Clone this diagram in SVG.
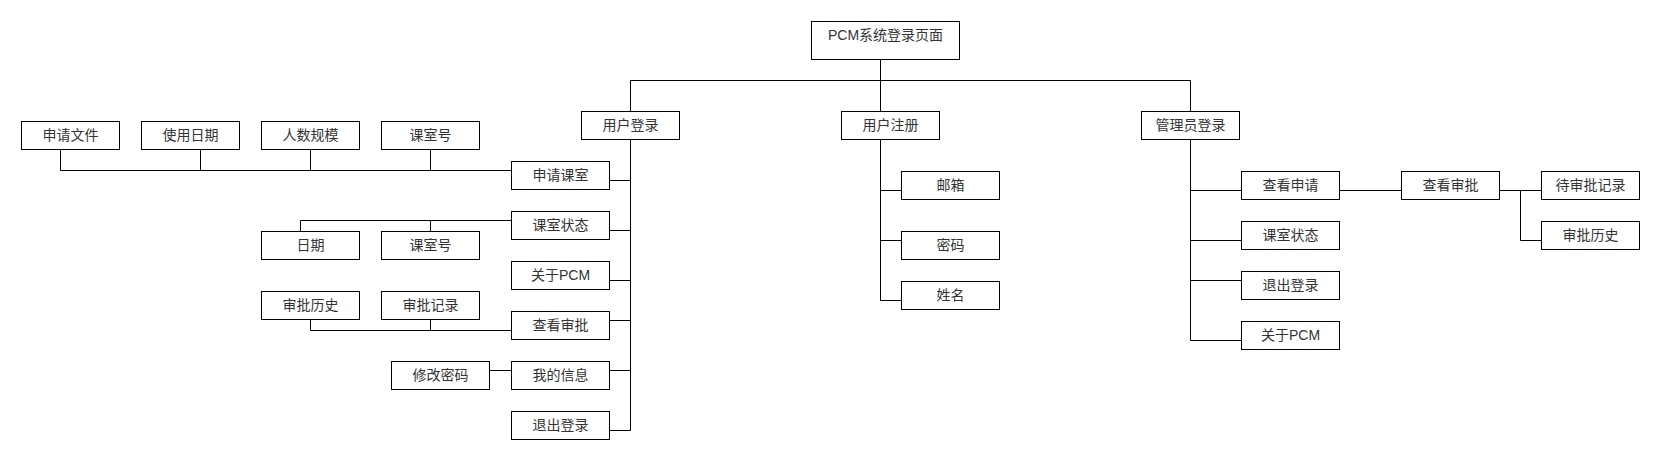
<svg xmlns="http://www.w3.org/2000/svg" width="1660" height="470" viewBox="0 0 1660 470">
<style>
.n rect{fill:#fff;stroke:#000;stroke-width:1}
.n text{font-family:"Liberation Sans","Noto Sans CJK SC",sans-serif;font-size:14px;fill:#333;text-anchor:middle}
#connectors path{fill:none;stroke:#000;stroke-width:1}
</style>
<rect width="1660" height="470" fill="#fff"/>
<g id="connectors">
<path d="M880.5 59.5V80.5M630.5 80.5H1190.5M630.5 80.5V111.5M880.5 80.5V111.5M1190.5 80.5V111.5"/>
<path d="M630.5 139.5V430.5M609.5 180.5H630.5M609.5 230.5H630.5M609.5 280.5H630.5M609.5 320.5H630.5M609.5 370.5H630.5M609.5 430.5H630.5"/>
<path d="M511.5 170.5H60.5M60.5 149.5V170.5M200.5 149.5V170.5M310.5 149.5V170.5M430.5 149.5V170.5"/>
<path d="M511.5 220.5H300.5V231.5M430.5 220.5V231.5"/>
<path d="M511.5 330.5H310.5V319.5M430.5 330.5V319.5"/>
<path d="M489.5 370.5H511.5"/>
<path d="M880.5 139.5V300.5M880.5 190.5H901.5M880.5 240.5H901.5M880.5 300.5H901.5"/>
<path d="M1190.5 139.5V340.5M1190.5 190.5H1241.5M1190.5 240.5H1241.5M1190.5 280.5H1241.5M1190.5 340.5H1241.5"/>
<path d="M1339.5 190.5H1401.5M1499.5 190.5H1541.5M1520.5 190.5V240.5H1541.5"/>
</g>
<g id="root" class="n"><rect x="811.5" y="21.5" width="148" height="38"/><text x="885.5" y="39.5">PCM系统登录页面</text></g>
<g id="user-login" class="n"><rect x="581.5" y="111.5" width="98" height="28"/><text x="630.5" y="129.5">用户登录</text></g>
<g id="user-register" class="n"><rect x="841.5" y="111.5" width="98" height="28"/><text x="890.5" y="129.5">用户注册</text></g>
<g id="admin-login" class="n"><rect x="1141.5" y="111.5" width="98" height="28"/><text x="1190.5" y="129.5">管理员登录</text></g>
<g id="apply-file" class="n"><rect x="21.5" y="121.5" width="98" height="28"/><text x="70.5" y="139.5">申请文件</text></g>
<g id="use-date" class="n"><rect x="141.5" y="121.5" width="98" height="28"/><text x="190.5" y="139.5">使用日期</text></g>
<g id="people-scale" class="n"><rect x="261.5" y="121.5" width="98" height="28"/><text x="310.5" y="139.5">人数规模</text></g>
<g id="room-no-1" class="n"><rect x="381.5" y="121.5" width="98" height="28"/><text x="430.5" y="139.5">课室号</text></g>
<g id="apply-room" class="n"><rect x="511.5" y="161.5" width="98" height="28"/><text x="560.5" y="179.5">申请课室</text></g>
<g id="room-status" class="n"><rect x="511.5" y="211.5" width="98" height="28"/><text x="560.5" y="229.5">课室状态</text></g>
<g id="date" class="n"><rect x="261.5" y="231.5" width="98" height="28"/><text x="310.5" y="249.5">日期</text></g>
<g id="room-no-2" class="n"><rect x="381.5" y="231.5" width="98" height="28"/><text x="430.5" y="249.5">课室号</text></g>
<g id="about-pcm" class="n"><rect x="511.5" y="261.5" width="98" height="28"/><text x="560.5" y="279.5">关于PCM</text></g>
<g id="approval-history" class="n"><rect x="261.5" y="291.5" width="98" height="28"/><text x="310.5" y="309.5">审批历史</text></g>
<g id="approval-record" class="n"><rect x="381.5" y="291.5" width="98" height="28"/><text x="430.5" y="309.5">审批记录</text></g>
<g id="view-approval" class="n"><rect x="511.5" y="311.5" width="98" height="28"/><text x="560.5" y="329.5">查看审批</text></g>
<g id="change-password" class="n"><rect x="391.5" y="361.5" width="98" height="28"/><text x="440.5" y="379.5">修改密码</text></g>
<g id="my-info" class="n"><rect x="511.5" y="361.5" width="98" height="28"/><text x="560.5" y="379.5">我的信息</text></g>
<g id="logout" class="n"><rect x="511.5" y="411.5" width="98" height="28"/><text x="560.5" y="429.5">退出登录</text></g>
<g id="email" class="n"><rect x="901.5" y="171.5" width="98" height="28"/><text x="950.5" y="189.5">邮箱</text></g>
<g id="password" class="n"><rect x="901.5" y="231.5" width="98" height="28"/><text x="950.5" y="249.5">密码</text></g>
<g id="name" class="n"><rect x="901.5" y="281.5" width="98" height="28"/><text x="950.5" y="299.5">姓名</text></g>
<g id="admin-view-apply" class="n"><rect x="1241.5" y="171.5" width="98" height="28"/><text x="1290.5" y="189.5">查看申请</text></g>
<g id="admin-room-status" class="n"><rect x="1241.5" y="221.5" width="98" height="28"/><text x="1290.5" y="239.5">课室状态</text></g>
<g id="admin-logout" class="n"><rect x="1241.5" y="271.5" width="98" height="28"/><text x="1290.5" y="289.5">退出登录</text></g>
<g id="admin-about-pcm" class="n"><rect x="1241.5" y="321.5" width="98" height="28"/><text x="1290.5" y="339.5">关于PCM</text></g>
<g id="admin-view-approval" class="n"><rect x="1401.5" y="171.5" width="98" height="28"/><text x="1450.5" y="189.5">查看审批</text></g>
<g id="pending-records" class="n"><rect x="1541.5" y="171.5" width="98" height="28"/><text x="1590.5" y="189.5">待审批记录</text></g>
<g id="admin-approval-history" class="n"><rect x="1541.5" y="221.5" width="98" height="28"/><text x="1590.5" y="239.5">审批历史</text></g>
</svg>
